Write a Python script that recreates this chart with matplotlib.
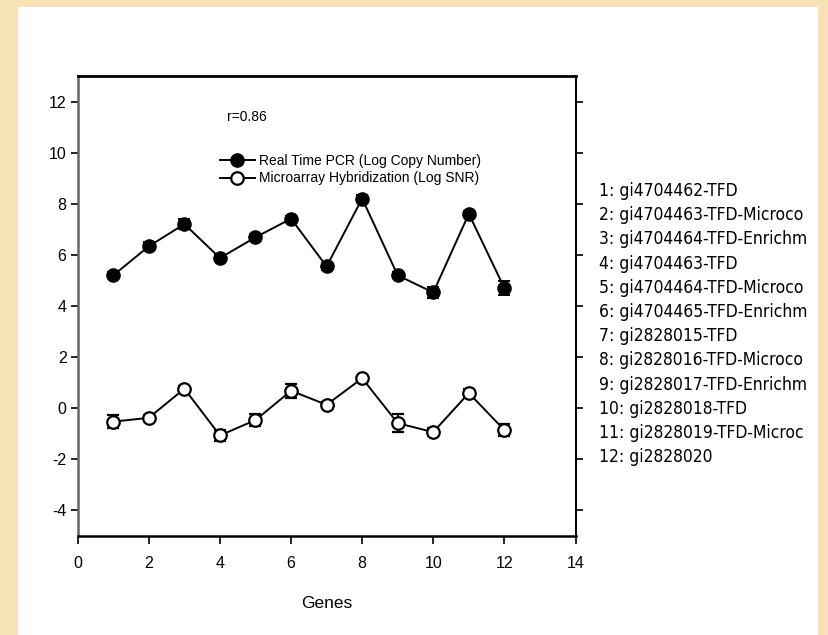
import matplotlib
matplotlib.use("Agg")
import matplotlib.pyplot as plt
from matplotlib.patches import Rectangle
from matplotlib.lines import Line2D

plt.rcParams["axes.unicode_minus"] = False

genes = [1, 2, 3, 4, 5, 6, 7, 8, 9, 10, 11, 12]
pcr = [5.19, 6.33, 7.20, 5.87, 6.68, 7.41, 5.54, 8.20, 5.19, 4.52, 7.60, 4.69]
pcr_err = [0.12, 0.15, 0.18, 0.12, 0.12, 0.10, 0.12, 0.12, 0.12, 0.20, 0.12, 0.28]
micro = [-0.54, -0.39, 0.75, -1.08, -0.48, 0.67, 0.12, 1.16, -0.60, -0.95, 0.58, -0.87]
micro_err = [0.26, 0.10, 0.12, 0.20, 0.22, 0.27, 0.10, 0.10, 0.35, 0.15, 0.15, 0.22]
gene_names = ["1: gi4704462-TFD", "2: gi4704463-TFD-Microco", "3: gi4704464-TFD-Enrichm",
              "4: gi4704463-TFD", "5: gi4704464-TFD-Microco", "6: gi4704465-TFD-Enrichm",
              "7: gi2828015-TFD", "8: gi2828016-TFD-Microco", "9: gi2828017-TFD-Enrichm",
              "10: gi2828018-TFD", "11: gi2828019-TFD-Microc", "12: gi2828020"]
series_labels = ["Real Time PCR (Log Copy Number)", "Microarray Hybridization (Log SNR)"]
xticks = [0, 2, 4, 6, 8, 10, 12, 14]
yticks = [-4, -2, 0, 2, 4, 6, 8, 10, 12]

W, H = 829, 635
fig = plt.figure(figsize=(W / 100, H / 100), dpi=100, facecolor="#f7e2b5")
fig.patches.append(Rectangle((18 / W, 0), (818 - 18) / W, (635 - 7) / H,
                             transform=fig.transFigure, facecolor="white",
                             edgecolor="none", zorder=-10))

ax = fig.add_axes([77.7 / W, 1 - 535.5 / H, (575.5 - 77.7) / W, (535.5 - 76) / H])
ax.set_zorder(1)
ax.set_facecolor("white")
font = "Liberation Sans"

ax.errorbar(genes, pcr, yerr=pcr_err, color="black", lw=1.4, marker="o", ms=9.5,
            mfc="black", mec="black", capsize=4, capthick=1.4, elinewidth=1.4)
ax.errorbar(genes, micro, yerr=micro_err, color="black", lw=1.4, marker="o", ms=9,
            mfc="white", mec="black", mew=1.6, capsize=4, capthick=1.4, elinewidth=1.4)

ax.set_xlim(0, 14)
ax.set_ylim(-5, 13)
ax.set_xticks(xticks)
ax.set_yticks(yticks)
ax.tick_params(axis="both", direction="out", length=5, width=1.2, labelsize=11.5,
               colors="black")
ax.tick_params(axis="y", right=True, labelright=False, pad=3)
ax.tick_params(axis="x", pad=9, length=6)
for lab in ax.get_xticklabels() + ax.get_yticklabels():
    lab.set_fontfamily(font)
ax.spines["left"].set_color("#666666")
ax.spines["left"].set_linewidth(1.8)
ax.spines["top"].set_linewidth(2.0)
ax.spines["bottom"].set_linewidth(1.8)
ax.spines["right"].set_linewidth(1.4)

ax.set_xlabel("Genes", fontsize=12.5, family=font, labelpad=18)

handles = [Line2D([], [], color="black", lw=1.4, marker="o", ms=9.5, mfc="black", mec="black"),
           Line2D([], [], color="black", lw=1.4, marker="o", ms=9, mfc="white", mec="black", mew=1.6)]
leg = ax.legend(handles, series_labels, loc="upper left", bbox_to_anchor=(213 / W, 1 - 147 / H),
                bbox_transform=fig.transFigure, frameon=False, borderpad=0,
                handlelength=2.5, handletextpad=0.3, labelspacing=0.25,
                prop={"family": font, "size": 10})

fig.text(227 / W, 1 - 117 / H, "r=0.86", fontsize=10, family=font, va="center")

for i, name in enumerate(gene_names):
    fig.text(599 / W, 1 - (191 + i * 24.2) / H, name, fontsize=12.5,
             family="DejaVu Sans", stretch="condensed", va="center", ha="left")

fig.savefig("out.png", dpi=100, facecolor=fig.get_facecolor())
